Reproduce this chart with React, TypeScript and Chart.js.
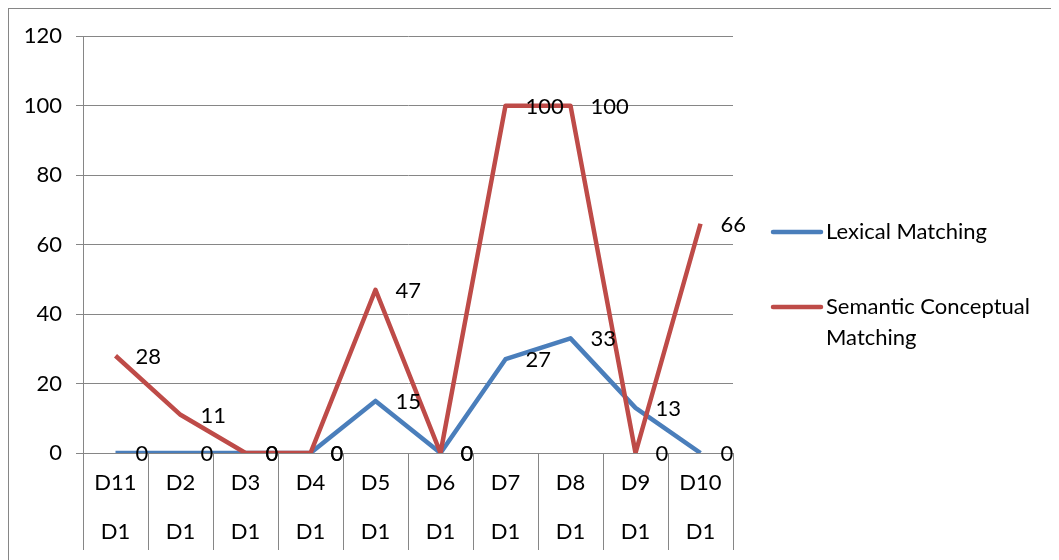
import React, { useEffect, useRef } from "react";
import { Chart, registerables } from "chart.js";

Chart.register(...registerables);

const categories = ["D11", "D2", "D3", "D4", "D5", "D6", "D7", "D8", "D9", "D10"];
const subLabels = ["D1", "D1", "D1", "D1", "D1", "D1", "D1", "D1", "D1", "D1"];
const lexicalValues = [0, 0, 0, 0, 15, 0, 27, 33, 13, 0];
const semanticValues = [28, 11, 0, 0, 47, 0, 100, 100, 0, 66];
const seriesNames = ["Lexical Matching", "Semantic Conceptual Matching"];
const legendLines = [["Lexical Matching"], ["Semantic Conceptual", "Matching"]];
const yTicks = [0, 20, 40, 60, 80, 100, 120];

const BLUE = "#4A7EBB";
const RED = "#BE4B48";
const GRID = "#868686";
const FONT = "Lato, 'Open Sans', sans-serif";

const overlay = {
  id: "overlay",
  afterDatasetsDraw(chart: any) {
    const ctx = chart.ctx;
    const x = chart.scales.x;
    const area = chart.chartArea;
    ctx.save();
    // category dividers below axis
    ctx.strokeStyle = GRID;
    ctx.lineWidth = 1;
    const n = categories.length;
    const step = n > 1 ? x.getPixelForValue(1) - x.getPixelForValue(0) : 0;
    for (let i = 0; i <= n; i++) {
      const px = Math.round(x.getPixelForValue(i) - step / 2) + 0.5;
      ctx.beginPath();
      ctx.moveTo(px, area.bottom);
      ctx.lineTo(px, area.bottom + 97);
      ctx.stroke();
    }
    // data labels
    ctx.fillStyle = "#000";
    ctx.font = `22px ${FONT}`;
    ctx.textAlign = "left";
    ctx.textBaseline = "middle";
    chart.data.datasets.forEach((ds: any, di: number) => {
      const meta = chart.getDatasetMeta(di);
      meta.data.forEach((pt: any, i: number) => {
        ctx.fillText(String(ds.data[i]), pt.x + 20, pt.y + 1);
      });
    });
    // legend
    const colors = [BLUE, RED];
    const ys = [223, 298];
    ctx.font = `22px ${FONT}`;
    legendLines.forEach((lines, li) => {
      ctx.strokeStyle = colors[li];
      ctx.lineWidth = 4.5;
      ctx.lineCap = "round";
      ctx.beginPath();
      ctx.moveTo(764, ys[li]);
      ctx.lineTo(812, ys[li]);
      ctx.stroke();
      lines.forEach((t, k) => {
        ctx.fillText(t, 817, ys[li] + k * 31);
      });
    });
    ctx.restore();
  },
};

export default function App() {
  const ref = useRef<HTMLCanvasElement>(null);
  useEffect(() => {
    if (!ref.current) return;
    const chart = new Chart(ref.current, {
      type: "line",
      data: {
        labels: categories.map((c, i) => [c, subLabels[i]]),
        datasets: [
          {
            label: seriesNames[0],
            data: lexicalValues,
            borderColor: BLUE,
            backgroundColor: BLUE,
            borderWidth: 4.5,
            pointRadius: 0,
            tension: 0,
            borderJoinStyle: "round",
            order: 1,
          },
          {
            label: seriesNames[1],
            data: semanticValues,
            borderColor: RED,
            backgroundColor: RED,
            borderWidth: 4.5,
            pointRadius: 0,
            tension: 0,
            borderJoinStyle: "round",
            order: 0,
          },
        ],
      },
      options: {
        animation: false,
        responsive: false,
        layout: { padding: { top: 26, right: 326, left: 0, bottom: 0 } },
        plugins: { legend: { display: false }, tooltip: { enabled: false } },
        scales: {
          x: {
            offset: true,
            grid: { display: false, drawOnChartArea: false, drawTicks: false },
            border: { display: false },
            ticks: {
              color: "#000",
              font: { family: FONT, size: 22, lineHeight: 2.2 },
              padding: 6,
              maxRotation: 0,
              autoSkip: false,
            },
            afterFit: (s: any) => {
              s.height = 107;
            },
          },
          y: {
            min: 0,
            max: 120,
            afterBuildTicks: (s: any) => {
              s.ticks = yTicks.map((v) => ({ value: v }));
            },
            grid: { color: GRID, lineWidth: 1, drawTicks: true, tickLength: 7 },
            border: { display: true, color: GRID, width: 1 },
            ticks: {
              color: "#000",
              font: { family: FONT, size: 22 },
              padding: 14,
            },
            afterFit: (s: any) => {
              s.width = 74;
            },
          },
        },
      },
      plugins: [overlay],
    });
    return () => chart.destroy();
  }, []);
  return (
    <div
      style={{
        position: "relative",
        width: 1051,
        height: 552,
        borderTop: `1px solid ${GRID}`,
        borderLeft: `1px solid ${GRID}`,
        boxSizing: "border-box",
        overflow: "hidden",
      }}
    >
      <canvas ref={ref} width={1050} height={551} style={{ display: "block" }} />
    </div>
  );
}
